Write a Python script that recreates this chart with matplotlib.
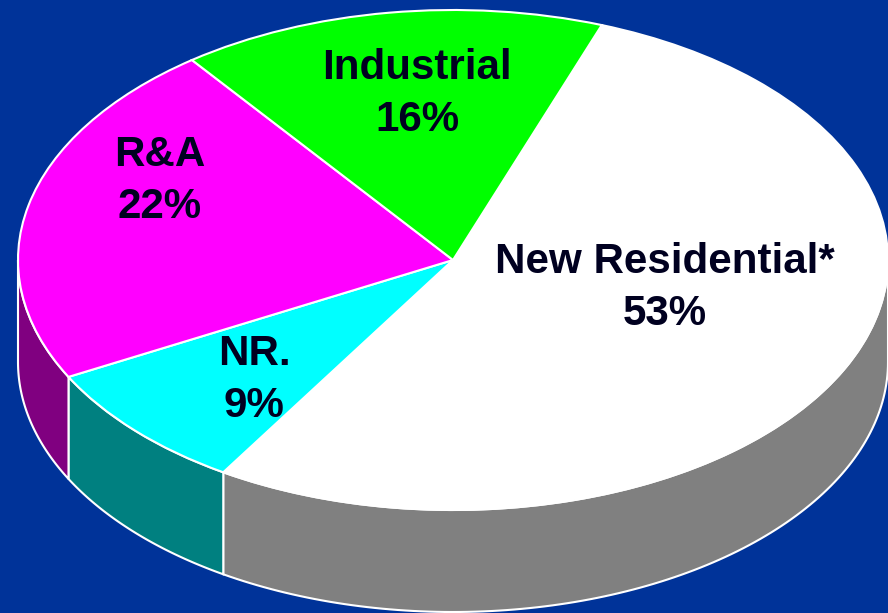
#! /usr/bin/env python3
import numpy as np
import matplotlib
matplotlib.use('Agg')
import matplotlib.pyplot as plt

labels = ['New Residential*', 'NR.', 'R&A', 'Industrial']
percentText = ['53%', '9%', '22%', '16%']
# sizes as measured on the picture, a little off the printed rounded figures
shares = [53.3, 8.4, 22.5, 15.8]
topColors = ['#ffffff', '#00ffff', '#ff00ff', '#00ff00']
sideColors = ['#808080', '#008080', '#800080', '#008000']

BG = '#003399'
INK = '#000020'
START = 70
DEPTH = 0.408

plt.rcParams['font.family'] = ['Liberation Sans', 'DejaVu Sans']

fig = plt.figure(figsize=(8.88, 6.13), dpi=100, facecolor=BG)
ax = fig.add_axes([0, 0, 1, 1])

# Side wall first, only the part of each slice that faces the viewer
edges = START - np.cumsum([0] + shares) * 3.6
for i in range(len(shares)):
    hi = min(edges[i], -0.0)
    lo = max(edges[i + 1], -180.0)
    if hi <= lo:
        continue
    t = np.radians(np.linspace(hi, lo, 120))
    xs = np.concatenate([np.cos(t), np.cos(t[::-1])])
    ys = np.concatenate([np.sin(t), np.sin(t[::-1]) - DEPTH])
    ax.fill(xs, ys, facecolor=sideColors[i], edgecolor='white', linewidth=1.5, zorder=1)

ax.pie(shares, startangle=START, counterclock=False, colors=topColors,
       wedgeprops={'edgecolor': 'white', 'linewidth': 1.5, 'zorder': 2})

ax.set_aspect('auto')
ax.set_xlim(-453 / 435, 435 / 435)
ax.set_ylim((260 - 613) / 250, 260 / 250)
ax.axis('off')

# label centres in pixels from the top left of the picture
labelPos = [(665, 288), (254, 380), (160, 181), (417, 94)]
for name, pct, (px, py) in zip(labels, percentText, labelPos):
    ax.text((px - 453) / 435, (260 - py) / 250, '{}\n{}'.format(name, pct),
            ha='center', va='center', fontsize=30.3, fontweight='bold',
            color=INK, linespacing=1.38, zorder=5)

fig.savefig('out.png', dpi=100, facecolor=BG)
